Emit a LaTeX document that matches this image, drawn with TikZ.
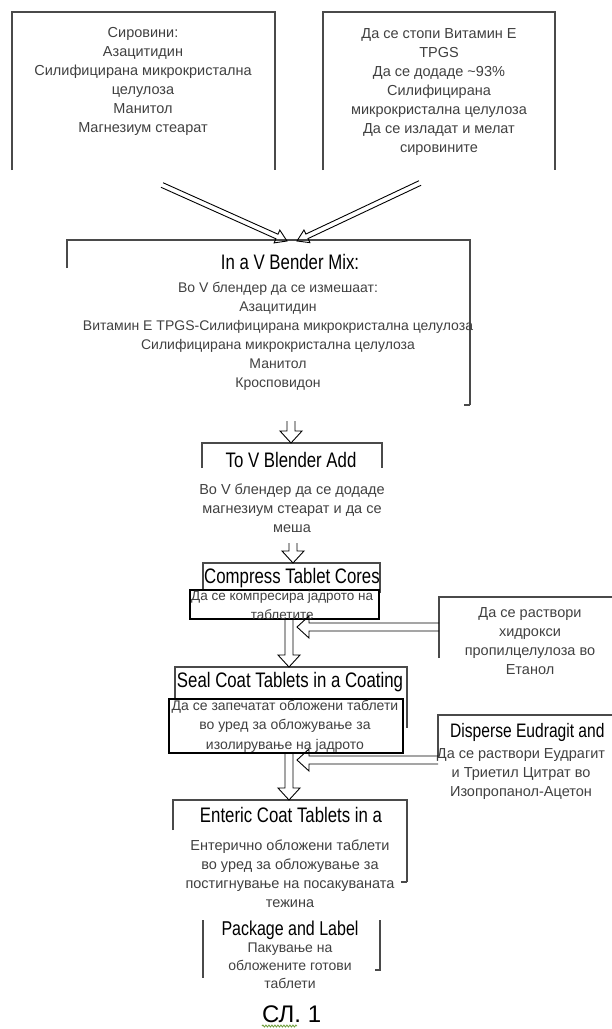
\documentclass[tikz,border=0pt]{standalone}
\usepackage{fontspec}
\setmainfont{Liberation Sans}
\newfontfamily\ttlfont[FakeStretch=0.8]{Liberation Sans}
\usepackage{tikz}
\usetikzlibrary{calc,decorations.pathmorphing}
\definecolor{brkgray}{HTML}{4A4A4A}
\definecolor{spellgreen}{HTML}{6E9E3A}

\begin{document}
\begin{tikzpicture}[x=1pt,y=-1pt,brk/.style={draw=brkgray,line width=2.2pt},txt/.style={font=\fontsize{14.5}{19}\selectfont,align=center,inner sep=0pt,text=black!75},ttl/.style={font=\ttlfont\fontsize{21}{22}\selectfont,inner sep=0pt},inbox/.style={draw=black,line width=1.6pt,fill=white,inner sep=0pt,anchor=north west},hollow/.style n args={3}{draw=black,line width=0.9pt,line join=miter,to path={($(\tikztostart)!#1!90:(\tikztotarget)$) -- ($(\tikztotarget)!#3!(\tikztostart)!#1!90:(\tikztotarget)$) -- ($(\tikztotarget)!#3!(\tikztostart)!#2!90:(\tikztotarget)$) -- (\tikztotarget) -- ($(\tikztotarget)!#3!(\tikztostart)!#2!-90:(\tikztotarget)$) -- ($(\tikztotarget)!#3!(\tikztostart)!#1!-90:(\tikztotarget)$) -- ($(\tikztostart)!#1!-90:(\tikztotarget)$)}},flow/.style={hollow={4pt}{11pt}{12pt}},merge/.style={hollow={2.5pt}{7pt}{11pt}}]
\useasboundingbox (0,0) rectangle (611,1029);
% bracket frames: left, right, top, left end, right end
\foreach \l/\r/\t/\lb/\rb in %
{12/275/12/170/170,323/555/12/170/170,67/470/240/268/405,202/382/443/468/468,203/380/563/590/593,175/407/667/700/728,173/407/800/830/882} {
   \draw[brk] (\l,\lb) |- (\r,\t) -- (\r,\rb);
}
\draw[brk] (470,405) -- (464,405);
\draw[brk] (407,882) -- (401,882);
\draw[brk] (439,658) |- (612,597);
\draw[brk] (438,757) |- (612,715);
\draw[brk] (203,920) -- (203,978);
\draw[brk] (380,920) -- (380,970) -- (375,970);
% texts
\node[txt] (raw) at (143,81) {Сировини:\\Азацитидин\\Силифицирана микрокристална\\целулоза\\Манитол\\Магнезиум стеарат};
\node[txt] (prep) at (439,92) {Да се стопи Витамин Е\\TPGS\\Да се додаде \textasciitilde93\%\\Силифицирана\\микрокристална целулоза\\Да се изладат и мелат\\сировините};
\node[ttl] (mixttl) at (290,262) {In a V Bender Mix:};
\node[txt,font=\fontsize{14}{19}\selectfont] (mix) at (278,336) {Во V блендер да се измешаат:\\Азацитидин\\Витамин Е TPGS-Силифицирана микрокристална целулоза\\Силифицирана микрокристална целулоза\\Манитол\\Кросповидон};
\node[ttl] (addttl) at (291,460) {To V Blender Add};
\node[txt] (add) at (292,508) {Во V блендер да се додаде\\магнезиум стеарат и да се\\меша};
\node[ttl] (corettl) at (292,578) {Compress Tablet Cores};
\node[inbox,minimum width=189pt,minimum height=29pt] (coreinfo) at (189,589) {};
\begin{scope}
\clip (coreinfo.north west) rectangle (coreinfo.south east);
\node[txt,anchor=north west,font=\fontsize{13.5}{19}\selectfont] (coretxt) at (191,591) {Да се компресира јадрото на\\таблетите};
\end{scope}
\node[txt] (hpc) at (530,641) {Да се раствори\\хидрокси\\пропилцелулоза во\\Етанол};
\node[ttl] (sealttl) at (290,682) {Seal Coat Tablets in a Coating};
\node[inbox,minimum width=234pt,minimum height=54pt] (sealinfo) at (168,698) {};
\node[txt,font=\fontsize{14}{19.5}\selectfont] (sealtxt) at (285,726) {Да се запечатат обложени таблети\\во уред за обложување за\\изолирување на јадрото};
\node[ttl,anchor=west,font=\ttlfont\fontsize{19.5}{21}\selectfont] (eudttl) at (450,732) {Disperse Eudragit and};
\node[txt] (eud) at (521,774) {Да се раствори Еудрагит\\и Триетил Цитрат во\\Изопропанол-Ацетон};
\node[ttl] (entttl) at (291,815) {Enteric Coat Tablets in a};
\node[txt] (ent) at (290,874) {Ентерично обложени таблети\\во уред за обложување за\\постигнување на посакуваната\\тежина};
\node[ttl,font=\ttlfont\fontsize{20}{21}\selectfont] (packttl) at (290,930) {Package and Label};
\node[txt,font=\fontsize{14}{18}\selectfont] (pack) at (290,966) {Пакување на\\обложените готови\\таблети};
\node[inner sep=0pt,font=\fontsize{24}{25}\selectfont,anchor=base west] (cap) at (262,1022) {СЛ. 1};
\draw[spellgreen,line width=0.8pt,decorate,decoration={snake,amplitude=1pt,segment length=3pt}] (262,1026) -- (297,1026);
% connectors
\coordinate (rawout) at (162,185);
\coordinate (prepout) at (420,183);
\coordinate (mixinl) at (287,241);
\coordinate (mixinr) at (297,241);
\coordinate (mixout) at (291,421);
\coordinate (addin) at (291,443);
\coordinate (addout) at (293,543);
\coordinate (corein) at (293,563);
\coordinate (coreout) at (coreinfo.south -| 289,0);
\coordinate (sealin) at (289,667);
\coordinate (sealout) at (sealinfo.south -| 289,0);
\coordinate (entin) at (289,800);
\coordinate (hpcout) at (439,627);
\coordinate (eudout) at (438,760);
\draw[merge] (rawout) to (mixinl);
\draw[merge] (prepout) to (mixinr);
\draw[flow] (mixout) to (addin);
\draw[flow] (addout) to (corein);
\draw[flow] (coreout) to (sealin);
\draw[flow] (sealout) to (entin);
\draw[flow] (hpcout) to (hpcout -| 297,0);
\draw[flow] (eudout) to (eudout -| 297,0);
\end{tikzpicture}
\end{document}
